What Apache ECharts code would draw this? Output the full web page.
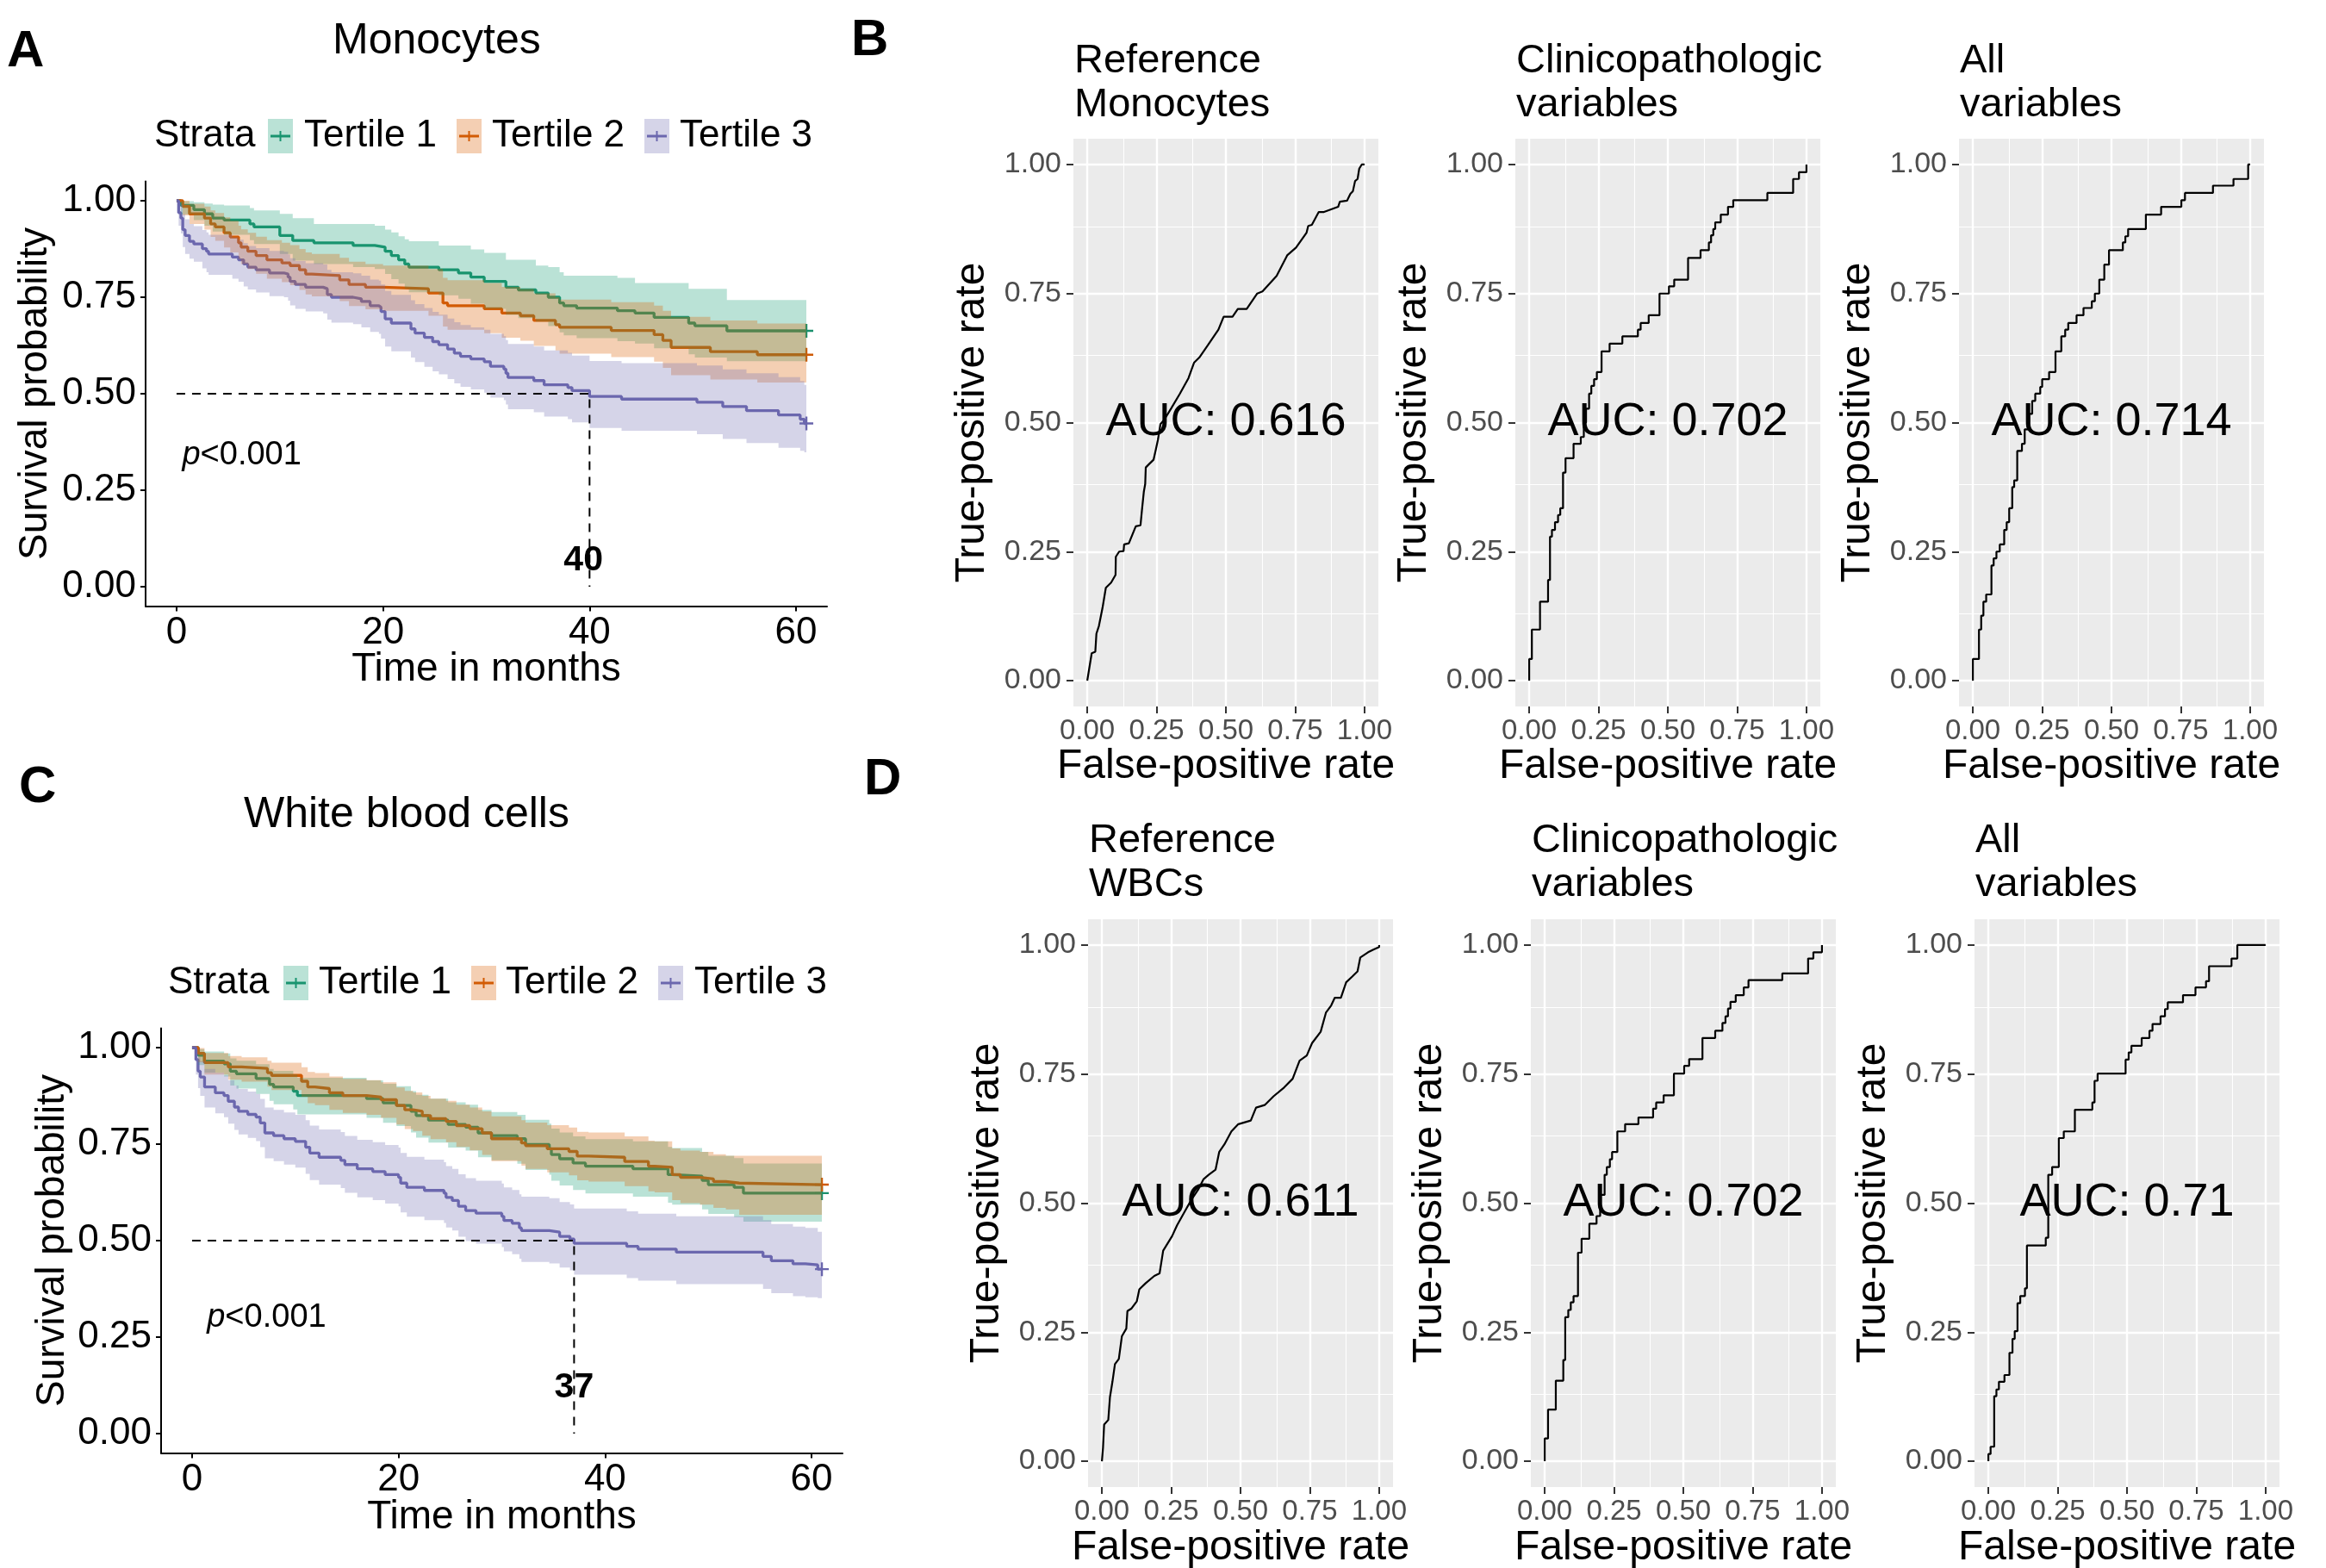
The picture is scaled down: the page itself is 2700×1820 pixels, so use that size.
<!DOCTYPE html>
<html>
<head>
<meta charset="utf-8">
<script src="https://cdn.jsdelivr.net/npm/echarts@6/dist/echarts.min.js"></script>
<style>
html, body { margin: 0; padding: 0; background: #fff; }
#main { width: 2700px; height: 1820px; }
</style>
</head>
<body>
<div id="main"></div>
<script>
// ---- Kaplan-Meier data ----
var strataLabels = ['Tertile 1', 'Tertile 2', 'Tertile 3'];
var kmTimeTicks = [0, 20, 40, 60];
var probTicks = [0, 0.25, 0.5, 0.75, 1];

// A: monocytes
var monoT1Time = [0, 0.42, 1.67, 2.7, 3.5, 4.6, 7.1, 7.5, 10.0, 11.25, 13.3, 17.1, 19.2, 20.2, 20.8, 21.5, 22.1, 22.5, 25.4, 27.3, 28.5, 29.8, 31.9, 33.1, 34.8, 36.0, 37.1, 37.5, 38.75, 42.7, 44.4, 46.25, 49.6, 50.2, 53.3, 61];
var monoT1Surv = [1, 0.988, 0.977, 0.966, 0.955, 0.950, 0.940, 0.932, 0.910, 0.897, 0.891, 0.884, 0.880, 0.869, 0.858, 0.847, 0.836, 0.828, 0.821, 0.813, 0.802, 0.791, 0.776, 0.769, 0.761, 0.750, 0.735, 0.728, 0.722, 0.715, 0.709, 0.698, 0.683, 0.676, 0.663, 0.663];
var monoT1High = [1, 0.999, 0.996, 0.993, 0.99, 0.988, 0.981, 0.975, 0.966, 0.955, 0.94, 0.94, 0.935, 0.925, 0.918, 0.908, 0.9, 0.895, 0.884, 0.884, 0.874, 0.865, 0.847, 0.847, 0.832, 0.828, 0.815, 0.806, 0.806, 0.8, 0.787, 0.787, 0.772, 0.772, 0.743, 0.743];
var monoT1Low = [1, 0.965, 0.95, 0.935, 0.92, 0.912, 0.898, 0.888, 0.862, 0.845, 0.836, 0.828, 0.823, 0.81, 0.797, 0.785, 0.772, 0.763, 0.755, 0.746, 0.733, 0.72, 0.704, 0.696, 0.687, 0.675, 0.659, 0.651, 0.644, 0.636, 0.63, 0.618, 0.602, 0.594, 0.584, 0.584];

var monoT2Time = [0, 0.6, 1.25, 2.7, 3.3, 3.75, 4.6, 5.2, 6.0, 6.25, 6.9, 7.7, 8.75, 10.2, 11.0, 11.9, 12.5, 13.1, 15.8, 16.7, 18.3, 20.0, 24.4, 25.8, 26.25, 29.8, 31.5, 33.3, 34.6, 36.7, 37.1, 42.1, 46.25, 47.1, 47.9, 51.7, 56.25, 61];
var monoT2Surv = [1, 0.985, 0.966, 0.955, 0.940, 0.932, 0.917, 0.906, 0.891, 0.880, 0.869, 0.858, 0.847, 0.839, 0.832, 0.821, 0.810, 0.806, 0.795, 0.783, 0.776, 0.772, 0.761, 0.735, 0.728, 0.720, 0.709, 0.702, 0.690, 0.679, 0.672, 0.664, 0.653, 0.638, 0.620, 0.609, 0.601, 0.601];
var monoT2High = [1, 1.0, 0.992, 0.985, 0.975, 0.968, 0.957, 0.948, 0.935, 0.926, 0.917, 0.907, 0.898, 0.891, 0.885, 0.875, 0.866, 0.862, 0.852, 0.842, 0.836, 0.832, 0.823, 0.8, 0.794, 0.787, 0.777, 0.771, 0.76, 0.75, 0.744, 0.737, 0.728, 0.715, 0.699, 0.69, 0.682, 0.682];
var monoT2Low = [1, 0.962, 0.94, 0.925, 0.906, 0.896, 0.879, 0.866, 0.849, 0.836, 0.823, 0.811, 0.798, 0.789, 0.781, 0.769, 0.757, 0.752, 0.74, 0.727, 0.719, 0.715, 0.702, 0.674, 0.666, 0.657, 0.645, 0.637, 0.624, 0.612, 0.604, 0.595, 0.583, 0.567, 0.548, 0.537, 0.529, 0.529];

var monoT3Time = [0, 0.2, 0.42, 0.6, 0.83, 1.25, 1.67, 2.5, 2.9, 3.1, 5.4, 6.0, 6.5, 6.9, 7.7, 9.0, 10.4, 10.8, 11.0, 11.5, 12.5, 14.2, 14.6, 15.0, 17.1, 17.9, 18.75, 19.6, 19.8, 20.2, 20.8, 22.7, 23.1, 24.0, 24.8, 25.4, 26.25, 26.9, 27.5, 28.5, 29.8, 30.4, 31.7, 31.9, 32.1, 34.6, 35.6, 37.9, 38.3, 40.0, 43.1, 50.4, 52.9, 55.2, 58.3, 60.4, 60.8, 61];
var monoT3Surv = [1, 0.969, 0.955, 0.925, 0.910, 0.895, 0.888, 0.876, 0.869, 0.862, 0.854, 0.847, 0.836, 0.828, 0.821, 0.813, 0.810, 0.802, 0.791, 0.783, 0.776, 0.772, 0.757, 0.750, 0.746, 0.739, 0.728, 0.724, 0.713, 0.694, 0.683, 0.668, 0.657, 0.646, 0.635, 0.627, 0.616, 0.605, 0.597, 0.590, 0.583, 0.571, 0.564, 0.553, 0.542, 0.534, 0.523, 0.516, 0.508, 0.493, 0.486, 0.478, 0.467, 0.456, 0.445, 0.434, 0.423, 0.423];
var monoT3High = [1, 0.995, 0.99, 0.965, 0.952, 0.94, 0.934, 0.924, 0.918, 0.912, 0.905, 0.899, 0.89, 0.883, 0.877, 0.87, 0.868, 0.861, 0.851, 0.844, 0.838, 0.835, 0.821, 0.815, 0.812, 0.806, 0.796, 0.793, 0.783, 0.766, 0.756, 0.742, 0.732, 0.722, 0.712, 0.705, 0.695, 0.685, 0.678, 0.672, 0.666, 0.655, 0.649, 0.639, 0.629, 0.622, 0.612, 0.606, 0.599, 0.585, 0.579, 0.573, 0.563, 0.553, 0.543, 0.533, 0.523, 0.523];
var monoT3Low = [1, 0.935, 0.915, 0.88, 0.862, 0.85, 0.842, 0.825, 0.815, 0.808, 0.798, 0.79, 0.778, 0.77, 0.762, 0.753, 0.75, 0.741, 0.729, 0.72, 0.713, 0.708, 0.692, 0.684, 0.68, 0.672, 0.66, 0.655, 0.643, 0.622, 0.61, 0.594, 0.582, 0.57, 0.558, 0.55, 0.538, 0.527, 0.518, 0.511, 0.503, 0.49, 0.483, 0.472, 0.46, 0.452, 0.441, 0.434, 0.426, 0.411, 0.404, 0.395, 0.383, 0.372, 0.36, 0.352, 0.348, 0.348];

// C: white blood cells
var wbcT1Time = [0, 0.6, 1.2, 3.1, 3.7, 4.3, 6.2, 7.5, 7.9, 9.8, 10.2, 16.9, 18.5, 19.8, 21.2, 21.7, 22.9, 24.8, 26.5, 27.7, 29.0, 31.5, 32.3, 34.6, 34.8, 35.6, 36.9, 38.1, 42.7, 46.1, 46.5, 49.4, 50.0, 52.5, 53.4, 61];
var wbcT1Surv = [1, 0.980, 0.965, 0.958, 0.939, 0.932, 0.920, 0.905, 0.898, 0.887, 0.876, 0.868, 0.857, 0.850, 0.835, 0.824, 0.812, 0.801, 0.794, 0.779, 0.772, 0.764, 0.749, 0.738, 0.723, 0.712, 0.701, 0.693, 0.686, 0.671, 0.667, 0.656, 0.645, 0.638, 0.623, 0.623];
var wbcT1High = [1, 0.996, 0.99, 0.985, 0.972, 0.966, 0.957, 0.945, 0.94, 0.931, 0.922, 0.915, 0.906, 0.9, 0.887, 0.878, 0.868, 0.858, 0.852, 0.839, 0.833, 0.826, 0.813, 0.803, 0.79, 0.78, 0.77, 0.763, 0.757, 0.743, 0.74, 0.73, 0.72, 0.714, 0.7, 0.7];
var wbcT1Low = [1, 0.955, 0.935, 0.925, 0.902, 0.894, 0.88, 0.862, 0.853, 0.84, 0.827, 0.818, 0.805, 0.797, 0.78, 0.767, 0.754, 0.741, 0.733, 0.716, 0.708, 0.699, 0.683, 0.671, 0.655, 0.643, 0.631, 0.622, 0.614, 0.598, 0.593, 0.581, 0.569, 0.561, 0.549, 0.549];

var wbcT2Time = [0, 0.6, 1.2, 3.5, 4.8, 7.3, 7.7, 10.6, 11.2, 11.9, 13.3, 14.6, 16.9, 18.3, 19.8, 20.6, 21.4, 22.3, 23.1, 24.6, 25.6, 26.9, 28.1, 29.0, 31.9, 32.3, 34.4, 36.5, 37.3, 38.4, 41.9, 44.2, 44.8, 46.5, 47.3, 49.2, 50.5, 51.7, 53.0, 61];
var wbcT2Surv = [1, 0.985, 0.961, 0.950, 0.946, 0.935, 0.928, 0.913, 0.898, 0.894, 0.883, 0.876, 0.872, 0.865, 0.850, 0.839, 0.835, 0.824, 0.816, 0.809, 0.798, 0.790, 0.779, 0.764, 0.753, 0.746, 0.738, 0.731, 0.719, 0.716, 0.705, 0.693, 0.690, 0.671, 0.664, 0.660, 0.653, 0.649, 0.645, 0.645];
var wbcT2High = [1, 0.999, 0.986, 0.978, 0.975, 0.966, 0.961, 0.949, 0.937, 0.934, 0.925, 0.919, 0.916, 0.91, 0.897, 0.888, 0.884, 0.875, 0.868, 0.862, 0.852, 0.845, 0.835, 0.822, 0.812, 0.806, 0.799, 0.793, 0.782, 0.78, 0.77, 0.759, 0.757, 0.739, 0.733, 0.73, 0.724, 0.72, 0.72, 0.72];
var wbcT2Low = [1, 0.962, 0.93, 0.917, 0.912, 0.899, 0.89, 0.873, 0.856, 0.851, 0.839, 0.831, 0.826, 0.818, 0.801, 0.789, 0.784, 0.772, 0.763, 0.755, 0.743, 0.734, 0.722, 0.706, 0.694, 0.686, 0.677, 0.669, 0.656, 0.653, 0.641, 0.628, 0.625, 0.605, 0.597, 0.593, 0.585, 0.581, 0.567, 0.567];

var wbcT3Time = [0, 0.37, 0.58, 0.79, 1.21, 2.25, 3.09, 3.5, 4.1, 4.5, 5.4, 6.2, 6.6, 7.05, 7.9, 8.9, 10.0, 11.0, 11.4, 12.3, 14.4, 14.8, 16.0, 17.5, 18.7, 20.0, 20.2, 20.8, 22.5, 24.4, 24.6, 25.2, 25.8, 26.5, 27.5, 30.0, 30.2, 31.0, 31.7, 31.9, 34.6, 35.6, 36.6, 37.0, 42.1, 43.2, 46.9, 55.3, 56.1, 58.2, 59.4, 60.6, 61];
var wbcT3Surv = [1, 0.969, 0.939, 0.924, 0.898, 0.883, 0.876, 0.861, 0.846, 0.835, 0.827, 0.820, 0.805, 0.779, 0.772, 0.764, 0.757, 0.742, 0.727, 0.716, 0.708, 0.697, 0.686, 0.679, 0.671, 0.664, 0.649, 0.638, 0.630, 0.623, 0.612, 0.604, 0.589, 0.578, 0.571, 0.563, 0.552, 0.545, 0.533, 0.526, 0.522, 0.511, 0.504, 0.493, 0.485, 0.478, 0.470, 0.459, 0.448, 0.440, 0.437, 0.426, 0.426];
var wbcT3High = [1, 0.995, 0.975, 0.965, 0.945, 0.935, 0.928, 0.915, 0.902, 0.893, 0.886, 0.88, 0.867, 0.845, 0.839, 0.832, 0.826, 0.812, 0.798, 0.788, 0.781, 0.771, 0.761, 0.755, 0.748, 0.741, 0.727, 0.717, 0.71, 0.703, 0.693, 0.686, 0.672, 0.662, 0.655, 0.648, 0.638, 0.631, 0.62, 0.614, 0.61, 0.6, 0.594, 0.583, 0.576, 0.57, 0.563, 0.553, 0.543, 0.536, 0.533, 0.523, 0.523];
var wbcT3Low = [1, 0.93, 0.895, 0.875, 0.845, 0.83, 0.82, 0.803, 0.787, 0.775, 0.766, 0.758, 0.742, 0.713, 0.706, 0.697, 0.689, 0.673, 0.657, 0.645, 0.636, 0.624, 0.612, 0.605, 0.596, 0.589, 0.573, 0.562, 0.553, 0.546, 0.534, 0.526, 0.51, 0.499, 0.492, 0.483, 0.472, 0.465, 0.453, 0.445, 0.441, 0.43, 0.423, 0.412, 0.403, 0.396, 0.387, 0.375, 0.364, 0.356, 0.353, 0.351, 0.351];

// median survival of tertile 3 and where its label sits
var monoMedian = 40, monoMedianLabel = [39.4, 0.067];
var wbcMedian = 37, wbcMedianLabel = [37.0, 0.12];
var pText = '<0.001';
var monoPPos = [0.5, 0.34];
var wbcPPos = [1.4, 0.30];

// ---- ROC data ----
var rocTicks = [0, 0.25, 0.5, 0.75, 1];
var rocMinorTicks = [0.125, 0.375, 0.625, 0.875];

var monoRefFpr = [0, 0.016, 0.029, 0.033, 0.042, 0.055, 0.067, 0.086, 0.102, 0.103, 0.115, 0.131, 0.133, 0.150, 0.175, 0.192, 0.197, 0.204, 0.209, 0.211, 0.220, 0.239, 0.247, 0.255, 0.264, 0.277, 0.302, 0.334, 0.365, 0.385, 0.404, 0.435, 0.473, 0.492, 0.524, 0.543, 0.575, 0.613, 0.632, 0.683, 0.721, 0.753, 0.791, 0.797, 0.810, 0.835, 0.854, 0.905, 0.911, 0.937, 0.949, 0.958, 0.966, 0.975, 0.981, 0.990, 1];
var monoRefTpr = [0, 0.053, 0.056, 0.091, 0.106, 0.141, 0.180, 0.190, 0.205, 0.240, 0.250, 0.251, 0.264, 0.266, 0.299, 0.301, 0.329, 0.366, 0.381, 0.413, 0.418, 0.428, 0.447, 0.467, 0.497, 0.505, 0.527, 0.556, 0.586, 0.616, 0.626, 0.650, 0.680, 0.705, 0.705, 0.720, 0.720, 0.750, 0.754, 0.784, 0.824, 0.839, 0.868, 0.881, 0.883, 0.908, 0.908, 0.918, 0.928, 0.930, 0.943, 0.948, 0.968, 0.972, 0.992, 1.0, 1];

var monoClinFpr = [0, 0, 0.0096, 0.039, 0.068, 0.075, 0.082, 0.093, 0.104, 0.112, 0.122, 0.131, 0.160, 0.186, 0.197, 0.205, 0.216, 0.224, 0.234, 0.244, 0.261, 0.290, 0.336, 0.392, 0.402, 0.431, 0.470, 0.504, 0.523, 0.573, 0.618, 0.648, 0.656, 0.664, 0.671, 0.691, 0.717, 0.736, 0.859, 0.952, 0.973, 1.0];
var monoClinTpr = [0, 0.042, 0.099, 0.153, 0.195, 0.279, 0.292, 0.307, 0.321, 0.334, 0.403, 0.431, 0.459, 0.472, 0.50, 0.527, 0.556, 0.571, 0.584, 0.598, 0.638, 0.653, 0.667, 0.680, 0.693, 0.708, 0.750, 0.764, 0.777, 0.819, 0.834, 0.849, 0.863, 0.875, 0.888, 0.903, 0.918, 0.931, 0.945, 0.972, 0.985, 1.0];

var monoAllFpr = [0, 0, 0.022, 0.030, 0.038, 0.048, 0.067, 0.075, 0.085, 0.097, 0.113, 0.122, 0.131, 0.142, 0.149, 0.160, 0.177, 0.187, 0.203, 0.214, 0.225, 0.243, 0.250, 0.275, 0.298, 0.319, 0.333, 0.344, 0.374, 0.399, 0.429, 0.440, 0.456, 0.474, 0.491, 0.541, 0.550, 0.560, 0.624, 0.679, 0.752, 0.765, 0.866, 0.940, 0.993, 1.0];
var monoAllTpr = [0, 0.042, 0.099, 0.126, 0.153, 0.167, 0.223, 0.237, 0.250, 0.264, 0.292, 0.307, 0.334, 0.375, 0.388, 0.445, 0.459, 0.487, 0.517, 0.542, 0.556, 0.569, 0.584, 0.598, 0.638, 0.667, 0.680, 0.693, 0.708, 0.722, 0.735, 0.750, 0.777, 0.806, 0.834, 0.849, 0.861, 0.875, 0.903, 0.918, 0.931, 0.945, 0.959, 0.972, 1.0, 1.0];

var wbcRefFpr = [0, 0.004, 0.008, 0.023, 0.029, 0.038, 0.047, 0.061, 0.072, 0.088, 0.092, 0.107, 0.126, 0.135, 0.158, 0.189, 0.208, 0.221, 0.253, 0.271, 0.297, 0.322, 0.347, 0.366, 0.385, 0.410, 0.423, 0.442, 0.467, 0.492, 0.537, 0.556, 0.587, 0.619, 0.657, 0.688, 0.713, 0.739, 0.758, 0.789, 0.808, 0.827, 0.840, 0.862, 0.881, 0.903, 0.922, 0.932, 0.960, 0.979, 1.0, 1];
var wbcRefTpr = [0, 0.026, 0.071, 0.080, 0.124, 0.154, 0.188, 0.198, 0.242, 0.257, 0.291, 0.296, 0.310, 0.333, 0.345, 0.359, 0.364, 0.408, 0.436, 0.457, 0.482, 0.506, 0.526, 0.546, 0.555, 0.565, 0.599, 0.614, 0.639, 0.653, 0.660, 0.685, 0.690, 0.707, 0.724, 0.741, 0.776, 0.786, 0.810, 0.832, 0.869, 0.883, 0.898, 0.898, 0.928, 0.939, 0.949, 0.976, 0.986, 0.991, 0.996, 1];

var wbcClinFpr = [0, 0, 0.012, 0.040, 0.067, 0.074, 0.085, 0.094, 0.104, 0.120, 0.133, 0.161, 0.187, 0.200, 0.216, 0.224, 0.235, 0.243, 0.262, 0.290, 0.338, 0.391, 0.402, 0.429, 0.466, 0.503, 0.521, 0.569, 0.615, 0.641, 0.652, 0.661, 0.670, 0.689, 0.718, 0.735, 0.857, 0.950, 0.969, 1.0];
var wbcClinTpr = [0, 0.044, 0.100, 0.156, 0.196, 0.279, 0.293, 0.308, 0.320, 0.404, 0.431, 0.460, 0.475, 0.516, 0.555, 0.570, 0.585, 0.599, 0.639, 0.653, 0.666, 0.683, 0.695, 0.709, 0.751, 0.766, 0.779, 0.820, 0.834, 0.849, 0.862, 0.877, 0.890, 0.903, 0.918, 0.932, 0.945, 0.974, 0.986, 1.0];

var wbcAllFpr = [0, 0, 0.008, 0.021, 0.029, 0.038, 0.058, 0.076, 0.087, 0.095, 0.105, 0.115, 0.132, 0.139, 0.207, 0.216, 0.230, 0.254, 0.272, 0.312, 0.375, 0.383, 0.394, 0.495, 0.506, 0.516, 0.553, 0.581, 0.592, 0.621, 0.637, 0.647, 0.702, 0.747, 0.785, 0.796, 0.877, 0.898, 1.0];
var wbcAllTpr = [0, 0.014, 0.028, 0.126, 0.139, 0.154, 0.167, 0.210, 0.237, 0.252, 0.306, 0.320, 0.335, 0.418, 0.433, 0.555, 0.570, 0.626, 0.639, 0.681, 0.695, 0.737, 0.751, 0.778, 0.792, 0.805, 0.820, 0.834, 0.847, 0.862, 0.876, 0.889, 0.903, 0.918, 0.930, 0.959, 0.974, 1.0, 1.0];

var monoAuc = ['0.616', '0.702', '0.714'];
var wbcAuc = ['0.611', '0.702', '0.71'];
var monoRocTitles = ['Reference\nMonocytes', 'Clinicopathologic\nvariables', 'All\nvariables'];
var wbcRocTitles = ['Reference\nWBCs', 'Clinicopathologic\nvariables', 'All\nvariables'];

// ---- styling ----
var FONT = "'Liberation Sans', Arial, Helvetica, sans-serif";
var lineColors = ['#19906c', '#cf5a05', '#6864ac'];
var bandColors = ['rgba(27,158,119,0.3)', 'rgba(217,95,2,0.3)', 'rgba(117,112,179,0.3)'];

function zip(a, b) {
  return a.map(function (v, i) { return [v, b[i]]; });
}

var chart = echarts.init(document.getElementById('main'), null, { width: 2700, height: 1820 });

var kmPanels = [
  { grid: { left: 169, top: 210.6, width: 791, height: 492.8 }, yGap: 105, xGap: 51,
    groups: [
      { time: monoT1Time, surv: monoT1Surv, low: monoT1Low, high: monoT1High },
      { time: monoT2Time, surv: monoT2Surv, low: monoT2Low, high: monoT2High },
      { time: monoT3Time, surv: monoT3Surv, low: monoT3Low, high: monoT3High }
    ],
    median: monoMedian, medianLabel: monoMedianLabel, pPos: monoPPos },
  { grid: { left: 187, top: 1193.6, width: 791, height: 492.8 }, yGap: 103, xGap: 52,
    groups: [
      { time: wbcT1Time, surv: wbcT1Surv, low: wbcT1Low, high: wbcT1High },
      { time: wbcT2Time, surv: wbcT2Surv, low: wbcT2Low, high: wbcT2High },
      { time: wbcT3Time, surv: wbcT3Surv, low: wbcT3Low, high: wbcT3High }
    ],
    median: wbcMedian, medianLabel: wbcMedianLabel, pPos: wbcPPos }
];

var rocPanels = [
  { grid: { left: 1246, top: 161, width: 354, height: 659 }, fpr: monoRefFpr, tpr: monoRefTpr, step: false, auc: monoAuc[0], title: monoRocTitles[0], xGap: 46 },
  { grid: { left: 1759, top: 161, width: 354, height: 659 }, fpr: monoClinFpr, tpr: monoClinTpr, step: 'end', auc: monoAuc[1], title: monoRocTitles[1], xGap: 46 },
  { grid: { left: 2274, top: 161, width: 354, height: 659 }, fpr: monoAllFpr, tpr: monoAllTpr, step: 'end', auc: monoAuc[2], title: monoRocTitles[2], xGap: 46 },
  { grid: { left: 1263, top: 1067, width: 354, height: 659 }, fpr: wbcRefFpr, tpr: wbcRefTpr, step: false, auc: wbcAuc[0], title: wbcRocTitles[0], xGap: 47 },
  { grid: { left: 1777, top: 1067, width: 354, height: 659 }, fpr: wbcClinFpr, tpr: wbcClinTpr, step: 'end', auc: wbcAuc[1], title: wbcRocTitles[1], xGap: 47 },
  { grid: { left: 2292, top: 1067, width: 354, height: 659 }, fpr: wbcAllFpr, tpr: wbcAllTpr, step: 'end', auc: wbcAuc[2], title: wbcRocTitles[2], xGap: 47 }
];

var grids = [], xAxes = [], yAxes = [], series = [], titles = [], graphics = [];

function mkTitle(text, left, top, size, weight, lh) {
  return { text: text, left: left, top: top, padding: 0,
    textStyle: { fontFamily: FONT, fontSize: size, fontWeight: weight || 'normal', color: '#000', lineHeight: lh || size } };
}

// step-shaped ribbon polygon between low and high, placed through the axes
function ribbonRenderer(time, low, high, fill) {
  return function (params, api) {
    var n = time.length, pts = [], i;
    for (i = 0; i < n; i++) {
      pts.push(api.coord([time[i], high[i]]));
      if (i < n - 1) pts.push(api.coord([time[i + 1], high[i]]));
    }
    for (i = n - 1; i >= 0; i--) {
      if (i < n - 1) pts.push(api.coord([time[i + 1], low[i]]));
      pts.push(api.coord([time[i], low[i]]));
    }
    return { type: 'polygon', shape: { points: pts }, style: { fill: fill } };
  };
}

function textPoint(gi, pos, label) {
  return { type: 'scatter', xAxisIndex: gi, yAxisIndex: gi, silent: true, z: 5, symbolSize: 1,
    itemStyle: { color: 'transparent', opacity: 1 }, emphasis: { disabled: true },
    data: [pos], label: label };
}

// ---- survival panels ----
kmPanels.forEach(function (p, gi) {
  grids.push(Object.assign({ show: false, containLabel: false, outerBoundsMode: 'none' }, p.grid));
  xAxes.push({
    type: 'value', gridIndex: gi, min: -3, max: 63,
    axisLine: { show: true, onZero: false, lineStyle: { color: '#000', width: 2 } },
    axisTick: { show: true, length: 6, customValues: kmTimeTicks, lineStyle: { color: '#000', width: 2 } },
    axisLabel: { show: true, customValues: kmTimeTicks, fontSize: 44, color: '#000', margin: 9, fontFamily: FONT, hideOverlap: false },
    splitLine: { show: false },
    name: 'Time in months', nameLocation: 'middle', nameGap: p.xGap, nameMoveOverlap: false,
    nameTextStyle: { fontSize: 46, color: '#000', fontFamily: FONT }
  });
  yAxes.push({
    type: 'value', gridIndex: gi, min: -0.05, max: 1.05,
    axisLine: { show: true, onZero: false, lineStyle: { color: '#000', width: 2 } },
    axisTick: { show: true, length: 6, customValues: probTicks, lineStyle: { color: '#000', width: 2 } },
    axisLabel: { show: true, customValues: probTicks, fontSize: 44, color: '#000', margin: 11, fontFamily: FONT, hideOverlap: false,
      formatter: function (v) { return v.toFixed(2); } },
    splitLine: { show: false },
    name: 'Survival probability', nameLocation: 'middle', nameGap: p.yGap, nameRotate: 90, nameMoveOverlap: false,
    nameTextStyle: { fontSize: 46, color: '#000', fontFamily: FONT }
  });

  // survival curves (drawn first: the ribbons sit on top of them, as in survminer)
  p.groups.forEach(function (g, k) {
    series.push({ type: 'line', xAxisIndex: gi, yAxisIndex: gi, step: 'end', showSymbol: false, silent: true, z: 2,
      data: zip(g.time, g.surv), lineStyle: { color: lineColors[k], width: 3.3 } });
  });
  // censor marks at the end of follow-up
  p.groups.forEach(function (g, k) {
    var n = g.time.length - 1;
    series.push({ type: 'scatter', xAxisIndex: gi, yAxisIndex: gi, silent: true, z: 2,
      symbol: 'path://M0,8.5L20,8.5L20,11.5L0,11.5Z M8.5,0L11.5,0L11.5,20L8.5,20Z', symbolSize: 16,
      itemStyle: { color: lineColors[k], opacity: 1 }, data: [[g.time[n], g.surv[n]]] });
  });
  // confidence ribbons
  p.groups.forEach(function (g, k) {
    series.push({ type: 'custom', xAxisIndex: gi, yAxisIndex: gi, silent: true, z: 3, clip: true,
      data: [[g.time[0], g.high[0]]],
      renderItem: ribbonRenderer(g.time, g.low, g.high, bandColors[k]) });
  });
  // median survival line
  series.push({ type: 'line', xAxisIndex: gi, yAxisIndex: gi, showSymbol: false, silent: true, z: 4,
    data: [[0, 0.5], [p.median, 0.5], [p.median, 0]],
    lineStyle: { color: '#000', width: 2, type: [10, 8] } });
  series.push(textPoint(gi, p.medianLabel,
    { show: true, position: 'inside', formatter: String(p.median), fontSize: 41, fontWeight: 'bold', color: '#000', fontFamily: FONT }));
  series.push(textPoint(gi, p.pPos,
    { show: true, position: 'right', distance: 0, formatter: '{i|p}' + pText, fontSize: 38, color: '#000', fontFamily: FONT,
      rich: { i: { fontStyle: 'italic', fontSize: 38, color: '#000', fontFamily: FONT } } }));
});

// ---- ROC panels ----
rocPanels.forEach(function (p, j) {
  var gi = j + 2;
  grids.push(Object.assign({ show: true, backgroundColor: '#ebebeb', borderWidth: 0, containLabel: false, outerBoundsMode: 'none' }, p.grid));
  xAxes.push({
    type: 'value', gridIndex: gi, min: -0.05, max: 1.05,
    axisLine: { show: false, onZero: false },
    axisTick: { show: true, length: 8, customValues: rocTicks, lineStyle: { color: '#333', width: 2 } },
    axisLabel: { show: true, customValues: rocTicks, fontSize: 33, color: '#4d4d4d', margin: 12, fontFamily: FONT, hideOverlap: false,
      formatter: function (v) { return v.toFixed(2); } },
    splitLine: { show: false },
    name: 'False-positive rate', nameLocation: 'middle', nameGap: p.xGap, nameMoveOverlap: false,
    nameTextStyle: { fontSize: 48, color: '#000', fontFamily: FONT }
  });
  yAxes.push({
    type: 'value', gridIndex: gi, min: -0.05, max: 1.05,
    axisLine: { show: false, onZero: false },
    axisTick: { show: true, length: 8, customValues: rocTicks, lineStyle: { color: '#333', width: 2 } },
    axisLabel: { show: true, customValues: rocTicks, fontSize: 34, color: '#4d4d4d', margin: 14, fontFamily: FONT, hideOverlap: false,
      formatter: function (v) { return v.toFixed(2); } },
    splitLine: { show: false },
    name: 'True-positive rate', nameLocation: 'middle', nameGap: 93, nameRotate: 90, nameMoveOverlap: false,
    nameTextStyle: { fontSize: 48, color: '#000', fontFamily: FONT }
  });

  var lines = [];
  rocTicks.forEach(function (v) {
    lines.push({ xAxis: v, lineStyle: { width: 2.4 } });
    lines.push({ yAxis: v, lineStyle: { width: 2.4 } });
  });
  rocMinorTicks.forEach(function (v) {
    lines.push({ xAxis: v, lineStyle: { width: 1.1 } });
    lines.push({ yAxis: v, lineStyle: { width: 1.1 } });
  });
  series.push({ type: 'line', xAxisIndex: gi, yAxisIndex: gi, data: [], silent: true, z: 1,
    markLine: { silent: true, symbol: ['none', 'none'], label: { show: false }, z: 1, animation: false,
      lineStyle: { color: '#ffffff', type: 'solid' }, emphasis: { disabled: true }, data: lines } });

  series.push({ type: 'line', xAxisIndex: gi, yAxisIndex: gi, step: p.step, showSymbol: false, silent: true, z: 3,
    data: zip(p.fpr, p.tpr), lineStyle: { color: '#000', width: 2.2 } });

  series.push(textPoint(gi, [0.5, 0.5],
    { show: true, position: 'inside', formatter: 'AUC: ' + p.auc, fontSize: 54, color: '#000', fontFamily: FONT }));

  titles.push(mkTitle(p.title, p.grid.left + 1, p.grid.top < 500 ? 45.5 : 950.5, 47, 'normal', 51));
});

// ---- titles and panel letters ----
titles.push(mkTitle('A', 8, 30.5, 60, 'bold'));
titles.push(mkTitle('B', 988, 17.5, 60, 'bold'));
titles.push(mkTitle('C', 22, 884, 60, 'bold'));
titles.push(mkTitle('D', 1003, 875, 60, 'bold'));
titles.push(mkTitle('Monocytes', 386, 23, 50));
titles.push(mkTitle('White blood cells', 283, 921, 50));

// ---- strata legends ----
function legendEls(strataX, keyXs, labelXs, cy) {
  var els = [{ type: 'text', x: strataX, y: cy, z: 10,
    style: { text: 'Strata', fontSize: 44, fontFamily: FONT, fill: '#000', align: 'left', verticalAlign: 'middle' } }];
  strataLabels.forEach(function (lab, k) {
    var x = keyXs[k];
    els.push({ type: 'line', z: 10, shape: { x1: x + 3, y1: cy, x2: x + 26, y2: cy }, style: { stroke: lineColors[k], lineWidth: 3 } });
    els.push({ type: 'line', z: 10, shape: { x1: x + 14.5, y1: cy - 6, x2: x + 14.5, y2: cy + 6 }, style: { stroke: lineColors[k], lineWidth: 2 } });
    els.push({ type: 'rect', z: 11, shape: { x: x, y: cy - 20, width: 29, height: 40 }, style: { fill: bandColors[k] } });
    els.push({ type: 'text', x: labelXs[k], y: cy, z: 10,
      style: { text: lab, fontSize: 44, fontFamily: FONT, fill: '#000', align: 'left', verticalAlign: 'middle' } });
  });
  return els;
}
graphics = graphics.concat(legendEls(179, [311, 530, 748], [353, 571, 789], 158));
graphics = graphics.concat(legendEls(195, [329, 547, 764], [370, 587, 806], 1141));

chart.setOption({
  animation: false,
  backgroundColor: '#ffffff',
  textStyle: { fontFamily: FONT },
  title: titles,
  grid: grids,
  xAxis: xAxes,
  yAxis: yAxes,
  series: series,
  graphic: { elements: graphics }
});
</script>
</body>
</html>
